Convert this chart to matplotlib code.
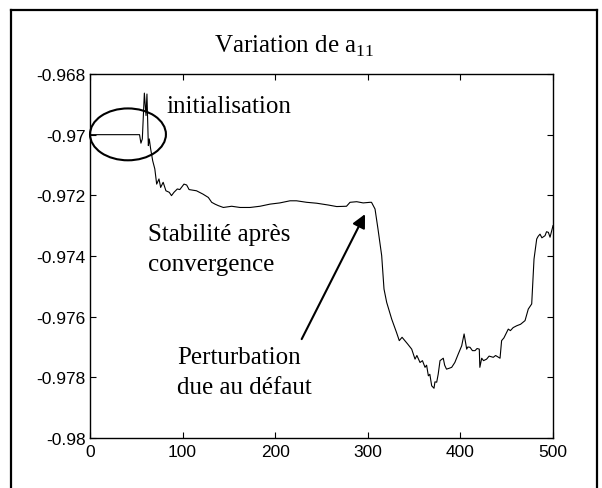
import matplotlib.pyplot as plt
from matplotlib.patches import Ellipse
from matplotlib.lines import Line2D

plt.rcParams['font.family'] = ['Liberation Sans', 'DejaVu Sans']
plt.rcParams['mathtext.fontset'] = 'custom'
plt.rcParams['mathtext.rm'] = 'Liberation Serif'

iterations = [0, 52, 53.5, 55, 56.5, 58.7, 60.5, 61.5, 63, 64, 65.5, 67.7, 70, 72,
              74.5, 76.3, 79, 82, 85.6, 88, 90.7, 94.3, 97, 101.5, 104.4, 107, 115,
              122, 127.8, 131.4, 135, 138.6, 144, 153, 162, 172.8, 183.6, 194.4, 205,
              216, 223, 234, 244.8, 257.4, 266.4, 277, 280.8, 288, 295, 302.4, 304,
              307.8, 311, 315, 317.5, 320.4, 325.8, 331, 334, 337, 340, 343, 347.4,
              351, 353, 356.4, 359, 361.8, 363.5, 365.4, 367, 369, 371.5, 372.5,
              374.4, 376, 378, 381.5, 383, 385, 388, 390.6, 394, 397.7, 401.4, 404,
              406.8, 408, 410.4, 413, 415.8, 418, 420.4, 421, 423, 425, 428.3, 431,
              435.5, 438, 442.8, 444.5, 447, 451.7, 454, 457, 460.8, 465, 469.8,
              473.3, 477, 479.5, 482.4, 484, 486, 488, 491.4, 493, 495, 496.8, 500]
a11 = [-0.97, -0.97, -0.97, -0.97028, -0.97014, -0.96863, -0.96937, -0.96866,
       -0.97036, -0.97014, -0.97047, -0.97086, -0.97113, -0.97163, -0.97146,
       -0.97174, -0.97157, -0.97185, -0.9719, -0.97201, -0.9719, -0.97179,
       -0.97181, -0.97163, -0.97166, -0.97181, -0.97185, -0.97196, -0.97207,
       -0.97223, -0.97229, -0.97234, -0.9724, -0.97236, -0.9724, -0.9724,
       -0.97236, -0.97229, -0.97225, -0.97218, -0.97218, -0.97223, -0.97226,
       -0.97232, -0.97237, -0.97236, -0.97223, -0.97221, -0.97225, -0.97223,
       -0.97223, -0.97245, -0.97311, -0.97399, -0.97509, -0.97553, -0.97608,
       -0.97652, -0.97679, -0.97668, -0.97679, -0.9769, -0.97707, -0.9774,
       -0.97728, -0.97751, -0.97745, -0.97767, -0.9776, -0.97795, -0.9779,
       -0.97828, -0.97836, -0.97815, -0.97816, -0.9779, -0.97745, -0.97737,
       -0.9776, -0.97773, -0.9777, -0.97767, -0.97751, -0.97723, -0.97696,
       -0.97657, -0.97707, -0.977, -0.97701, -0.97712, -0.97712, -0.97705,
       -0.97707, -0.97767, -0.97737, -0.97745, -0.9774, -0.9773, -0.97734,
       -0.97728, -0.97737, -0.97679, -0.9767, -0.97641, -0.97646, -0.97636,
       -0.9763, -0.97625, -0.97613, -0.97575, -0.97558, -0.9741, -0.97344,
       -0.97335, -0.97328, -0.9734, -0.97333, -0.9732, -0.97322, -0.97338, -0.973]

xticks = [0, 100, 200, 300, 400, 500]
yticks = [-0.98, -0.978, -0.976, -0.974, -0.972, -0.97, -0.968]
ytick_labels = ['-0.98', '-0.978', '-0.976', '-0.974', '-0.972', '-0.97', '-0.968']

fig = plt.figure(figsize=(6.02, 4.89), dpi=100)
ax = fig.add_axes([90 / 602, 50 / 489, 463 / 602, 364 / 489])

ax.plot(iterations, a11, color='black', linewidth=0.8)

ax.set_xlim(0, 500)
ax.set_ylim(-0.98, -0.968)
ax.set_xticks(xticks)
ax.set_yticks(yticks)
ax.set_yticklabels(ytick_labels)
ax.tick_params(direction='in', length=4, width=0.8, top=True, right=True,
               labelsize=12.5, pad=3)
ax.tick_params(axis='x', pad=4)
for s in ax.spines.values():
    s.set_linewidth(1.0)

serif = ['Liberation Serif', 'DejaVu Serif']
fig.text(294 / 602, 1 - 46 / 489, r'Variation de a$_{\mathrm{11}}$',
         family=serif, fontsize=18, ha='center', va='center')

# ellipse autour de l'initialisation
ax.add_patch(Ellipse((41, -0.96999), 82, 0.00171, fill=False, edgecolor='black',
                     linewidth=1.5, clip_on=False))
ax.text(83, -0.96906, 'initialisation', family=serif, fontsize=18, va='center')
ax.text(62.6, -0.97328, 'Stabilité après', family=serif, fontsize=18, va='center')
ax.text(62.6, -0.97426, 'convergence', family=serif, fontsize=18, va='center')
ax.text(94, -0.97733, 'Perturbation', family=serif, fontsize=18, va='center')
ax.text(94, -0.97832, 'due au défaut', family=serif, fontsize=18, va='center')
ax.annotate('', xy=(297, -0.97262), xytext=(228.6, -0.97674),
            arrowprops=dict(arrowstyle='-|>', color='black', lw=1.5,
                            mutation_scale=20, shrinkA=0, shrinkB=0))

# cadre extérieur
for xs, ys in [([11 / 602, 11 / 602], [0, 1 - 11 / 489]),
               ([11 / 602, 597 / 602], [1 - 11 / 489, 1 - 11 / 489]),
               ([597 / 602, 597 / 602], [1 - 11 / 489, 0])]:
    fig.add_artist(Line2D(xs, ys, color='black', linewidth=1.6,
                          transform=fig.transFigure))

plt.savefig('out.png', dpi=100)
